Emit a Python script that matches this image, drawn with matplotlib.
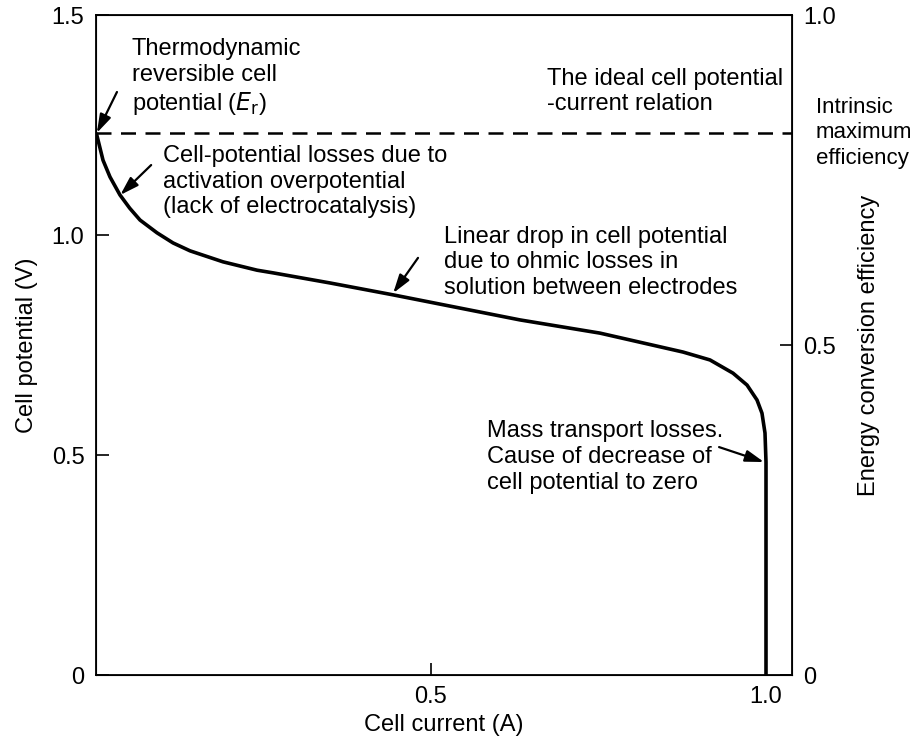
import matplotlib as mpl
mpl.use('Agg')
import matplotlib.pyplot as plt

plt.rcParams['font.family'] = ['Liberation Sans', 'DejaVu Sans']

# values
current = [0.0, 0.0018, 0.0112, 0.0216, 0.0365, 0.0510, 0.0664, 0.0917, 0.1156,
           0.1410, 0.1902, 0.2410, 0.2647, 0.3497, 0.4437, 0.6331, 0.7524,
           0.8762, 0.9165, 0.9508, 0.9717, 0.9866, 0.9940, 0.9985, 1.0, 1.0]
potential = [1.232, 1.228, 1.170, 1.132, 1.091, 1.061, 1.034, 1.005, 0.982,
             0.964, 0.939, 0.920, 0.914, 0.891, 0.864, 0.807, 0.777,
             0.734, 0.716, 0.686, 0.659, 0.625, 0.595, 0.550, 0.484, 0.0]
Er = 1.232
yticks_left = [0, 0.5, 1.0, 1.5]
yticklabels_left = ['0', '0.5', '1.0', '1.5']
xticks = [0.5, 1.0]
xticklabels = ['0.5', '1.0']
yticks_right = [0, 0.5, 1.0]
yticklabels_right = ['0', '0.5', '1.0']

fs = 17
fg = plt.figure(figsize=(9.16, 7.42), dpi=100)
ax = fg.add_axes([95.5/916, 1-675/742, (792-95.5)/916, (675-15)/742])

ax.plot(current, potential, color='black', lw=2.6, solid_capstyle='butt',
        solid_joinstyle='round')
ax.plot([0, 1.04], [Er, Er], color='black', lw=1.8, dashes=(6, 3.8))

ax.set_xlim(0, (792-95.5)/670.5)
ax.set_ylim(0, 1.5)
ax.set_xticks(xticks)
ax.set_xticklabels(xticklabels)
ax.set_yticks(yticks_left)
ax.set_yticklabels(yticklabels_left)
ax.tick_params(direction='in', length=9, width=1.2, labelsize=fs, pad=8)
for s in ax.spines.values():
    s.set_linewidth(1.3)
ax.set_xlabel('Cell current (A)', fontsize=fs, labelpad=4)
ax.set_ylabel('Cell potential (V)', fontsize=fs, labelpad=10)

ax2 = ax.twinx()
ax2.set_ylim(0, 1.0)
ax2.set_yticks(yticks_right)
ax2.set_yticklabels(yticklabels_right)
ax2.tick_params(direction='in', length=9, width=1.2, labelsize=fs, pad=8)
ax2.set_ylabel('Energy conversion efficiency', fontsize=fs, labelpad=16)

arrow = dict(arrowstyle='-|>,head_length=0.7,head_width=0.22', color='black',
             lw=1.6, mutation_scale=16, shrinkA=0, shrinkB=0)
ls = 1.22

ax.text(0.054, 1.357, 'Thermodynamic\nreversible cell\npotential ($E_\\mathrm{r}$)',
        fontsize=fs, ha='left', va='center', linespacing=ls)
ax.annotate('', xy=(0.002, Er), xytext=(0.032, 1.325), arrowprops=arrow)

ax.text(0.673, 1.326, 'The ideal cell potential\n-current relation',
        fontsize=fs, ha='left', va='center', linespacing=ls)

ax.text(1.074, Er, 'Intrinsic\nmaximum\nefficiency', fontsize=16, ha='left',
        va='center', linespacing=1.28, clip_on=False)

ax.text(0.101, 1.121, 'Cell-potential losses due to\nactivation overpotential\n(lack of electrocatalysis)',
        fontsize=fs, ha='left', va='center', linespacing=ls)
ax.annotate('', xy=(0.037, 1.091), xytext=(0.083, 1.159), arrowprops=arrow)

ax.text(0.520, 0.938, 'Linear drop in cell potential\ndue to ohmic losses in\nsolution between electrodes',
        fontsize=fs, ha='left', va='center', linespacing=ls)
ax.annotate('', xy=(0.444, 0.868), xytext=(0.481, 0.948), arrowprops=arrow)

ax.text(0.584, 0.496, 'Mass transport losses.\nCause of decrease of\ncell potential to zero',
        fontsize=fs, ha='left', va='center', linespacing=ls)
ax.annotate('', xy=(0.997, 0.484), xytext=(0.930, 0.518), arrowprops=arrow)

fg.savefig('out.png', dpi=100)
